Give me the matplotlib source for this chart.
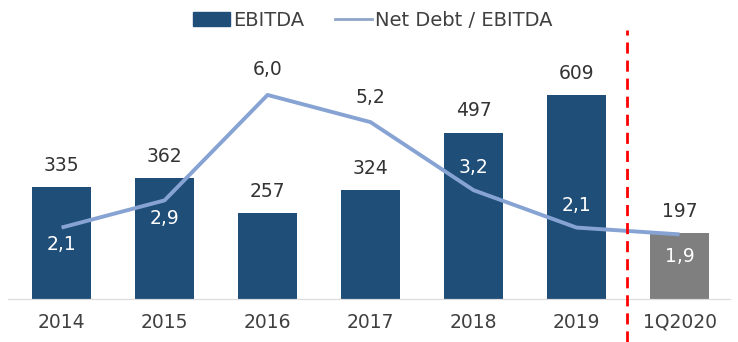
import matplotlib.pyplot as plt
from matplotlib.lines import Line2D
from matplotlib.patches import Patch

# EBITDA and leverage by period
periods = ['2014', '2015', '2016', '2017', '2018', '2019', '1Q2020']
ebitda = [335, 362, 257, 324, 497, 609, 197]
leverage = [2.1, 2.9, 6.0, 5.2, 3.2, 2.1, 1.9]
lev_labels = ['2,1', '2,9', '6,0', '5,2', '3,2', '2,1', '1,9']
# vertical shift of each ratio label from its point, in points
lev_shift = [-12.5, -13, 18.5, 18, 16, 16, -16]

navy = '#1f4e79'
grey = '#7f7f7f'
light_blue = '#86a3d3'
text_col = '#333333'

fig = plt.figure(figsize=(7.38, 3.42), dpi=100)
ax = fig.add_axes([8 / 738, 43 / 342, 722 / 738, 268 / 342])
ax2 = ax.twinx()

x = list(range(len(periods)))
colors = [navy] * 6 + [grey]
ax.bar(x, ebitda, width=0.58, color=colors, zorder=2)
for xi, v in zip(x, ebitda):
    ax.annotate(str(v), (xi, v), xytext=(0, 15.5), textcoords='offset points',
                ha='center', va='center', fontsize=13.5, color=text_col)

ax2.plot(x, leverage, color=light_blue, lw=2.8, solid_capstyle='butt', zorder=3)
for xi, lab, v, dy in zip(x, lev_labels, leverage, lev_shift):
    colr = text_col if xi in (2, 3) else 'white'
    ax2.annotate(lab, (xi, v), xytext=(0, dy), textcoords='offset points',
                 ha='center', va='center', fontsize=13.5, color=colr)

ax.set_xlim(-0.52, 6.49)
ax.set_ylim(0, 800)
ax2.set_ylim(0, 7.88)
ax.set_xticks(x)
ax.set_xticklabels(periods, fontsize=13.5, color='#404040')
ax.tick_params(axis='x', length=0, pad=10)
ax.set_yticks([])
ax2.set_yticks([])
for a in (ax, ax2):
    for side in ('top', 'left', 'right'):
        a.spines[side].set_visible(False)
    a.spines['bottom'].set_color('#dcdcdc')

# separator between full years and the quarter
fig.add_artist(Line2D([627 / 738, 627 / 738], [0, 312 / 342], color='red',
                      lw=2, ls=(0, (4, 2.5))))

handles = [Patch(color=navy), Line2D([0], [0], color='#8fa6c8', lw=2)]
fig.legend(handles, ['EBITDA', 'Net Debt / EBITDA'], loc='center',
           bbox_to_anchor=(373 / 738, 1 - 20 / 342), ncol=2, frameon=False,
           fontsize=14, handlelength=1.9, handletextpad=0.15, columnspacing=1.6,
           labelcolor='#404040')

fig.savefig('out.png', dpi=100)
